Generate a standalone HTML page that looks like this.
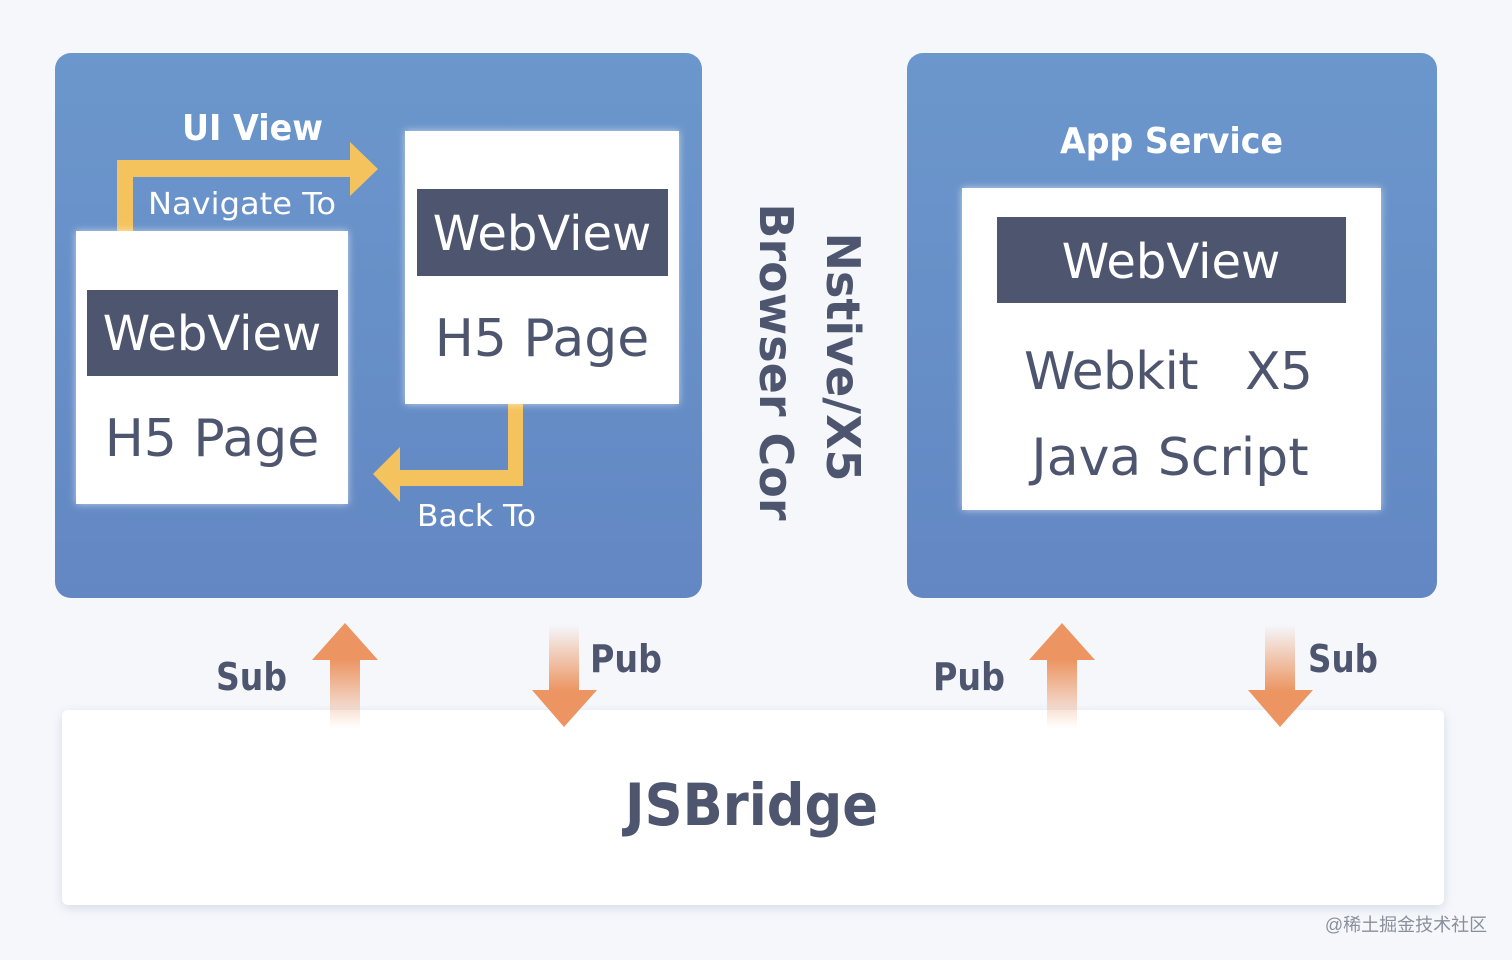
<!DOCTYPE html>
<html><head><meta charset="utf-8"><style>
html,body{margin:0;padding:0;background:#f5f7fb;}
svg{display:block;}
text{font-family:"DejaVu Sans","Liberation Sans",sans-serif;}
</style></head><body>
<svg width="1512" height="960" viewBox="0 0 1512 960" xmlns="http://www.w3.org/2000/svg">
<defs>
<linearGradient id="pg" x1="0" y1="0" x2="0" y2="1"><stop offset="0" stop-color="#6b97cc"/><stop offset="1" stop-color="#6387c3"/></linearGradient>
<linearGradient id="up" x1="0" y1="0" x2="0" y2="1"><stop offset="0" stop-color="#ec9562"/><stop offset="0.35" stop-color="#ec9562"/><stop offset="1" stop-color="#ec9562" stop-opacity="0"/></linearGradient>
<linearGradient id="dn" x1="0" y1="1" x2="0" y2="0"><stop offset="0" stop-color="#ec9562"/><stop offset="0.35" stop-color="#ec9562"/><stop offset="1" stop-color="#ec9562" stop-opacity="0"/></linearGradient>
<filter id="sh" x="-10%" y="-10%" width="120%" height="130%"><feDropShadow dx="0" dy="3" stdDeviation="5" flood-color="#9aa6c0" flood-opacity="0.35"/></filter>
<filter id="gl" x="-10%" y="-10%" width="120%" height="120%"><feDropShadow dx="0" dy="0" stdDeviation="4" flood-color="#ffffff" flood-opacity="0.6"/></filter>
</defs>
<rect width="1512" height="960" fill="#f5f7fb"/>
<rect x="55" y="53" width="647" height="545" rx="16" fill="url(#pg)"/>
<rect x="907" y="53" width="530" height="545" rx="16" fill="url(#pg)"/>
<path d="M117 231 V160 H350 V142 L378 169 L350 196 V177 H133 V231 Z" fill="#f5c35e"/>
<path d="M508 404 H523 V486 H400 V502 L373 474 L400 447 V470 H508 Z" fill="#f5c35e"/>
<rect x="76" y="231" width="272" height="273" fill="#fff" filter="url(#gl)"/>
<rect x="87" y="290" width="251" height="86" fill="#4e566f"/>
<text x="212" y="350" font-size="48" fill="#fff" text-anchor="middle">WebView</text>
<text x="212" y="456" font-size="52" fill="#4e566f" text-anchor="middle">H5 Page</text>
<rect x="405" y="131" width="274" height="273" fill="#fff" filter="url(#gl)"/>
<rect x="417" y="189" width="251" height="87" fill="#4e566f"/>
<text x="542" y="250" font-size="48" fill="#fff" text-anchor="middle">WebView</text>
<text x="542" y="356" font-size="52" fill="#4e566f" text-anchor="middle">H5 Page</text>
<text x="182" y="140" font-size="36" font-weight="bold" fill="#fff" textLength="141" lengthAdjust="spacingAndGlyphs">UI View</text>
<text x="148" y="214" font-size="30" fill="#fff" textLength="188" lengthAdjust="spacingAndGlyphs">Navigate To</text>
<text x="417" y="526" font-size="30" fill="#fff" textLength="119" lengthAdjust="spacingAndGlyphs">Back To</text>
<text transform="translate(760,362) rotate(90)" font-size="46" font-weight="bold" fill="#4e566f" text-anchor="middle">Browser Cor</text>
<text transform="translate(827,357) rotate(90)" font-size="46" font-weight="bold" fill="#4e566f" text-anchor="middle">Nstive/X5</text>
<text x="1060" y="153" font-size="36" font-weight="bold" fill="#fff" textLength="223" lengthAdjust="spacingAndGlyphs">App Service</text>
<rect x="962" y="188" width="419" height="322" fill="#fff" filter="url(#gl)"/>
<rect x="997" y="217" width="349" height="86" fill="#4e566f"/>
<text x="1171" y="278" font-size="48" fill="#fff" text-anchor="middle">WebView</text>
<text x="1024" y="389" font-size="52" fill="#4e566f" xml:space="preserve" textLength="289" lengthAdjust="spacing">Webkit   X5</text>
<text x="1170" y="475" font-size="52" fill="#4e566f" text-anchor="middle">Java Script</text>
<rect x="62" y="710" width="1382" height="195" rx="6" fill="#fff" filter="url(#sh)"/>
<text x="625" y="825" font-size="58" font-weight="bold" fill="#4e566f" textLength="253" lengthAdjust="spacingAndGlyphs">JSBridge</text>
<path d="M345 623 L378 660 H360 V728 H330 V660 H312 Z" fill="url(#up)"/>
<path d="M549 625 H579 V690 H597 L564 727 L532 690 H549 Z" fill="url(#dn)"/>
<path d="M1062 623 L1095 660 H1077 V728 H1047 V660 H1029 Z" fill="url(#up)"/>
<path d="M1265 625 H1295 V690 H1313 L1280 727 L1248 690 H1265 Z" fill="url(#dn)"/>
<text x="216" y="690" font-size="38" font-weight="bold" fill="#4e566f" textLength="71" lengthAdjust="spacingAndGlyphs">Sub</text>
<text x="590" y="672" font-size="38" font-weight="bold" fill="#4e566f" textLength="72" lengthAdjust="spacingAndGlyphs">Pub</text>
<text x="933" y="690" font-size="38" font-weight="bold" fill="#4e566f" textLength="72" lengthAdjust="spacingAndGlyphs">Pub</text>
<text x="1308" y="672" font-size="38" font-weight="bold" fill="#4e566f" textLength="70" lengthAdjust="spacingAndGlyphs">Sub</text>
<text x="1406" y="931" font-size="18" fill="#8a8f9c" text-anchor="middle" style="font-family:'Liberation Sans','Noto Sans CJK SC',sans-serif">@稀土掘金技术社区</text>
</svg>
</body></html>
